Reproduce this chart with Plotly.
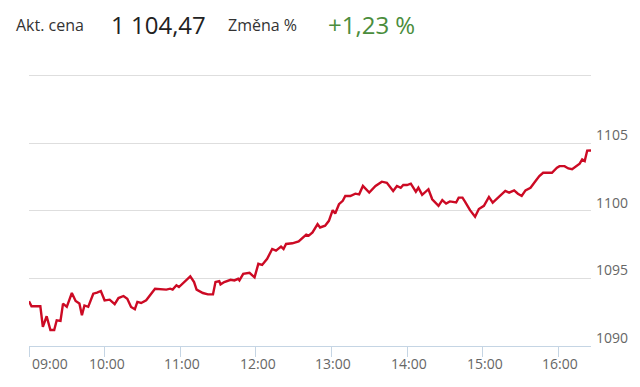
import plotly.graph_objects as go

# Intraday price data (time of day, price)
times = ["09:00", "09:02", "09:09", "09:11", "09:14", "09:17", "09:20", "09:22", "09:25", "09:27",
         "09:30", "09:34", "09:37", "09:40", "09:42", "09:44", "09:47", "09:51", "09:54", "09:57",
         "10:00", "10:04", "10:08", "10:11", "10:15", "10:18", "10:21", "10:24", "10:26", "10:29",
         "10:33", "10:37", "10:40", "10:49", "10:52", "10:54", "10:57", "10:59", "11:03", "11:08",
         "11:11", "11:13", "11:18", "11:22", "11:26", "11:28", "11:31", "11:32", "11:35", "11:40",
         "11:43", "11:46", "11:47", "11:50", "11:55", "11:59", "12:02", "12:05", "12:09", "12:13",
         "12:16", "12:20", "12:22", "12:24", "12:29", "12:34", "12:40", "12:42", "12:45", "12:49",
         "12:51", "12:55", "12:58", "13:01", "13:03", "13:06", "13:09", "13:11", "13:15", "13:19",
         "13:22", "13:25", "13:30", "13:35", "13:40", "13:44", "13:49", "13:52", "13:55", "13:57",
         "14:00", "14:03", "14:07", "14:09", "14:12", "14:17", "14:20", "14:25", "14:28", "14:31",
         "14:34", "14:39", "14:41", "14:44", "14:46", "14:50", "14:54", "14:57", "15:01", "15:05",
         "15:08", "15:11", "15:15", "15:18", "15:21", "15:25", "15:28", "15:31", "15:34", "15:38",
         "15:42", "15:45", "15:48", "15:55", "15:59", "16:01", "16:05", "16:08", "16:11", "16:14",
         "16:17", "16:19", "16:21", "16:23", "16:26"]
prices = [1093.31, 1092.94, 1092.94, 1091.42, 1092.20, 1091.18, 1091.18, 1091.90, 1091.86, 1093.14,
          1092.90, 1093.92, 1093.33, 1093.14, 1092.28, 1093.00, 1092.90, 1093.87, 1093.95, 1094.07,
          1093.38, 1093.43, 1093.09, 1093.55, 1093.70, 1093.50, 1092.89, 1092.72, 1093.26, 1093.18,
          1093.38, 1093.87, 1094.24, 1094.17, 1094.24, 1094.17, 1094.49, 1094.36, 1094.73, 1095.15,
          1094.73, 1094.17, 1093.92, 1093.82, 1093.82, 1094.73, 1094.80, 1094.56, 1094.73, 1094.90,
          1094.85, 1094.97, 1094.85, 1095.34, 1095.42, 1095.08, 1096.08, 1096.00, 1096.45, 1097.18,
          1097.06, 1097.35, 1097.18, 1097.55, 1097.60, 1097.74, 1098.24, 1098.16, 1098.40, 1099.02,
          1098.77, 1098.90, 1099.26, 1100.05, 1099.80, 1100.49, 1100.74, 1101.10, 1101.10, 1101.27,
          1101.22, 1101.84, 1101.35, 1101.84, 1102.16, 1102.08, 1101.47, 1101.84, 1101.71, 1101.91,
          1101.91, 1102.01, 1101.42, 1101.71, 1101.18, 1101.60, 1100.86, 1100.37, 1100.79, 1100.54,
          1100.70, 1100.62, 1100.98, 1100.98, 1100.69, 1100.05, 1099.56, 1100.13, 1100.37, 1101.03,
          1100.61, 1100.86, 1101.23, 1101.47, 1101.35, 1101.52, 1101.27, 1101.10, 1101.52, 1101.71,
          1102.21, 1102.57, 1102.82, 1102.82, 1103.19, 1103.31, 1103.31, 1103.14, 1103.08, 1103.31,
          1103.49, 1103.80, 1103.68, 1104.46, 1104.47]

x_ticks = ["09:00", "10:00", "11:00", "12:00", "13:00", "14:00", "15:00", "16:00"]
y_ticks = [1090, 1095, 1100, 1105, 1110]
y_tick_text = ["1090", "1095", "1100", "1105", ""]

header_items = ["Akt. cena", "1 104,47", "Změna %", "+1,23 %"]

FONT = "Open Sans, sans-serif"
day = "2024-01-02 "
xs = [day + t for t in times]

L, R, T, B = 29, 47, 73, 41
W, H = 640, 387
PW, PH = W - L - R, H - T - B

fig = go.Figure()
fig.add_trace(go.Scatter(x=xs, y=prices, mode="lines",
                         line=dict(color="#cc0a24", width=2.4), hoverinfo="skip"))

fig.update_layout(
    width=W, height=H,
    margin=dict(l=L, r=R, t=T, b=B),
    paper_bgcolor="white", plot_bgcolor="white",
    showlegend=False,
    font=dict(family=FONT, color="#666666"),
    xaxis=dict(
        range=[day + "09:00", day + "16:26"],
        tickvals=[day + t for t in x_ticks], showticklabels=False,
        showgrid=False, showline=True, linecolor="#c5d5e4", linewidth=1,
        ticks="outside", ticklen=10, tickcolor="#c5d5e4", tickwidth=1,
        zeroline=False,
    ),
    yaxis=dict(
        range=[1090, 1110.2], side="right",
        tickvals=y_ticks, ticktext=y_tick_text,
        showgrid=True, gridcolor="#dedede", gridwidth=1,
        showline=False, zeroline=False, ticks="",
        ticklabelshift=-8, ticklabelstandoff=4,
        tickfont=dict(size=14, color="#666666"),
    ),
)

# x tick labels (first one justified inside the plot like the original)
for i, t in enumerate(x_ticks):
    fig.add_annotation(
        x=day + t, y=-(363 - (H - B)) / PH, xref="x", yref="paper",
        xanchor="left" if i == 0 else "center", yanchor="middle",
        xshift=1 if i == 0 else 2,
        text=t, showarrow=False,
        font=dict(family=FONT, size=14, color="#666666"),
    )

# Header
header_pos = [14, 109, 227, 327]
header_size = [16, 24, 16, 24]
header_col = ["#333333", "#222222", "#333333", "#4a8d3c"]
for px, txt, sz, col in zip(header_pos, header_items, header_size, header_col):
    fig.add_annotation(
        x=(px - L) / PW, y=1 + (T - 25) / PH,
        xref="paper", yref="paper", xanchor="left", yanchor="middle",
        text=txt, showarrow=False,
        font=dict(family=FONT, size=sz, color=col),
    )

fig.write_html("out.html")
